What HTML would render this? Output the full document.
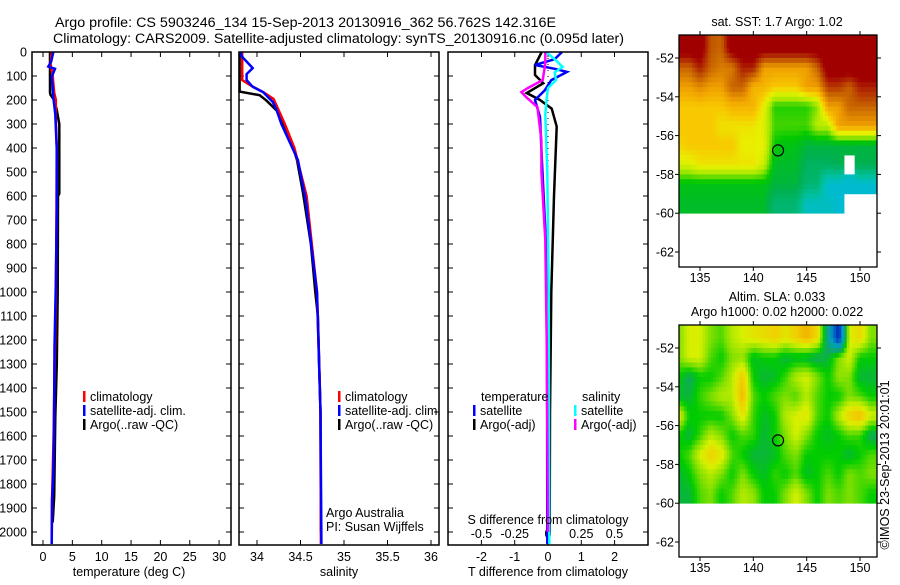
<!DOCTYPE html>
<html><head><meta charset="utf-8"><style>
html,body{margin:0;padding:0;background:#fff;}
svg text{font-family:"Liberation Sans",sans-serif;fill:#000;}
</style></head><body>
<svg id="fig" width="900" height="580" viewBox="0 0 900 580" xmlns="http://www.w3.org/2000/svg">
<rect width="900" height="580" fill="#fff"/>
<text x="55" y="27" font-size="13.5" textLength="501" lengthAdjust="spacingAndGlyphs">Argo profile: CS 5903246_134 15-Sep-2013 20130916_362 56.762S 142.316E</text>
<text x="53" y="43" font-size="13.5" textLength="571" lengthAdjust="spacingAndGlyphs">Climatology: CARS2009. Satellite-adjusted climatology: synTS_20130916.nc (0.095d later)</text>
<g id="g"></g>
</svg>
<script>
// ---------- data ----------
const depthTicks = [0,100,200,300,400,500,600,700,800,900,1000,1100,1200,1300,1400,1500,1600,1700,1800,1900,2000];
const tempTicks = [0,5,10,15,20,25,30];
const salTicks = [34,34.5,35,35.5,36];
const salTickLabels = ["34","34.5","35","35.5","36"];
const tdiffTicks = [-2,-1,0,1,2];
const sdiffTicks = [-0.5,-0.25,0,0.25,0.5];
const sdiffTickLabels = ["-0.5","-0.25","0","0.25","0.5"];

const tDepthArgo = [0,170,179,200,240,300,590,600,1000,1300,1520,1850,1960];
const tArgo = [1.19,1.19,1.3,1.9,2.33,2.78,2.78,2.55,2.5,2.35,2.1,1.9,1.65];
const tDepthClim = [0,50,100,170,200,260,400,700,1000,1300,1600,1850,2050];
const tClim = [1.48,1.3,1.65,1.9,2.2,2.15,2.35,2.3,2.2,2.0,1.8,1.55,1.48];
const tDepthSat = [0,40,61,70,103,188,260,400,660,950,1230,1560,1760,1870,2050];
const tSat = [1.76,1.4,0.9,2.04,1.5,1.75,2.1,2.33,2.33,2.2,1.96,1.87,1.76,1.53,1.48];

const sDepthArgo = [0,165,180,203,245,300,380,450,589,800,1000,1100,1500,2000];
const sArgo = [33.80,33.80,34.03,34.11,34.23,34.30,34.40,34.46,34.53,34.62,34.67,34.70,34.73,34.735];
const sDepthClim = [0,117,138,167,195,236,300,400,600,1000,1500,2050];
const sClim = [33.83,33.83,33.92,34.07,34.19,34.24,34.32,34.43,34.57,34.69,34.73,34.735];
const sDepthSat = [0,20,67,92,117,145,167,208,236,300,450,617,1000,1500,2050];
const sSat = [33.81,33.83,33.95,33.88,33.88,33.95,34.07,34.18,34.22,34.28,34.47,34.56,34.69,34.73,34.74];

const dDepthArgoT = [0,55,96,130,171,200,236,311,600,1000,1500,2000];
const dArgoT = [-0.19,-0.39,-0.39,-0.14,-0.64,-0.24,0.11,0.26,0.18,0.1,0.06,0.05];
const dDepthSatT = [0,30,54,70,83,117,160,200,270,460,800,1200,2050];
const dSatT = [0.42,0.2,-0.39,0.2,0.57,0.1,-0.1,-0.39,-0.24,-0.18,-0.06,-0.03,-0.02];
const dDepthArgoS = [0,50,117,150,167,190,229,367,500,783,1200,2000];
const dArgoS = [-0.02,-0.02,-0.04,-0.15,-0.2,-0.16,-0.08,-0.05,-0.05,-0.02,-0.01,0];
const dDepthSatS = [0,30,62,85,117,150,192,260,500,1000,2050];
const dSatS = [-0.015,0.05,0.11,0.05,0.06,0.0,-0.01,-0.02,-0.005,0.005,0.01];

const mapLons = [133,134,135,136,137,138,139,140,141,142,143,144,145,146,147,148,149,150,151];
const latTicks = [-52,-54,-56,-58,-60,-62];
const lonTicks = [135,140,145,150];
const sstGrid = [
 [4.5,4.5,4.5,3.6,3.5,4.5,4.5,4.5,4.5,4.5,4.5,4.5,4.5,4.5,4.5,4.5,4.5,4.5,4.5],
 [3.5,3.5,4.0,3.5,3.3,3.3,4.0,4.0,3.0,3.0,3.0,3.0,3.0,3.5,4.5,4.5,4.5,4.5,4.5],
 [3.0,3.0,3.2,3.0,3.0,3.5,3.5,2.8,2.8,2.6,2.6,2.6,3.0,3.0,3.8,3.8,3.5,4.0,4.0],
 [2.6,2.6,2.6,2.6,2.6,2.8,2.8,2.8,2.3,1.5,1.5,1.5,1.5,1.8,3.0,3.0,3.5,3.5,3.5],
 [2.6,2.6,2.6,2.6,2.4,2.4,2.4,2.4,2.2,1.6,1.6,1.6,1.6,2.0,2.0,3.0,3.0,3.0,3.0],
 [2.5,2.6,2.6,2.6,2.6,2.6,2.3,2.3,2.3,1.4,1.3,1.3,1.1,1.1,1.1,1.1,1.1,1.1,1.1],
 [2.2,2.2,2.4,2.4,2.4,2.4,2.4,2.4,2.1,1.2,1.2,1.2,0.9,0.9,0.9,1.0,null,1.0,1.0],
 [1.3,1.3,1.3,1.3,1.3,1.3,1.3,1.3,1.3,1.1,1.1,1.1,0.8,0.8,0.2,0.2,0.2,0.2,0.2],
 [1.2,1.2,1.2,1.2,1.2,1.2,1.2,1.2,1.2,0.8,0.8,0.8,0.3,0.3,0.3,0.2,null,null,null]
];
const slaGrid = [
 [0.5,1,1,0.5,0.3,0.8,1,1.2,1.3,1.5,1.2,1.5,1.8,1.4,-1,-3,1,1.4,0.5],
 [0.5,1,1,0.3,0,0.5,0.6,-0.2,0,0,-0.3,-0.2,-0.3,-0.5,-0.3,0.5,1,0,0],
 [0,-0.5,0,0,0.3,0.8,1.6,0,-0.3,-0.2,0.2,0.8,1,0.5,0,0.6,0.5,-0.3,-0.3],
 [-0.3,-0.3,0.2,0.5,0.8,0.8,1.8,0.3,0,0.3,0.5,0.3,0.8,0.3,0,0,0.5,0.3,0],
 [1.2,0,0,0,0,0.5,1.2,0.2,-0.2,0,0.8,1,1.2,0.3,0,0.8,1.5,1.8,1],
 [0,-0.3,0.2,0.8,0.5,0,0.3,0.2,-0.3,0,0.5,1,0.5,0,-0.2,0,0.3,0.2,-0.5],
 [0,0.3,1,1.5,1.2,0.3,0,-0.3,-0.3,-0.2,0.3,0.5,0,0,0,0,-0.3,0,0.3],
 [-0.3,0,0.5,0.8,0.5,0,0.5,0,-0.2,0.2,0,0.3,-0.2,0,0.3,0,0.5,0.3,0.5],
 [-0.3,-0.3,0.3,0.5,0,0.3,0.8,0.6,0,0,0.5,1,0.5,0,0.5,0.3,0.5,0.3,0]
];
const argoLon = 142.316, argoLat = -56.762;

// ---------- helpers ----------
const NS = "http://www.w3.org/2000/svg";
const G = document.getElementById('g');
function mk(tag, attrs, parent){ const e=document.createElementNS(NS,tag); for(const k in attrs) e.setAttribute(k,attrs[k]); (parent||G).appendChild(e); return e; }
function txt(s,x,y,size,anchor,parent){ const t=mk('text',{x:x,y:y,'font-size':size,'text-anchor':anchor||'start'},parent); t.textContent=s; return t; }

const PT=52, PB=545;
const yD = d => 52 + d*0.24;
const xT = v => 43 + v*5.87;
const xS = v => 257 + (v-34)*87;
const xTD = v => 548 + v*33.3;
const xSD = v => 548 + v*133;

function frame(x0,x1,y0,y1,name){ const r=mk('rect',{x:x0,y:y0,width:x1-x0,height:y1-y0,fill:'none',stroke:'#000','stroke-width':1.5});   }
function line(xs,ys,fx,fy,color,name,w){ const p=xs.map((v,i)=>fx(v).toFixed(1)+','+fy(ys[i]).toFixed(1)).join(' '); const e=mk('polyline',{points:p,fill:'none',stroke:color,'stroke-width':w||2.5,'stroke-linejoin':'miter'});   }
function yticks(x0,x1){ depthTicks.forEach(d=>{ mk('line',{x1:x0,y1:yD(d),x2:x0+5,y2:yD(d),stroke:'#000'}); mk('line',{x1:x1,y1:yD(d),x2:x1-5,y2:yD(d),stroke:'#000'}); }); }
function xticks(vals,f,y0,y1){ vals.forEach(v=>{ mk('line',{x1:f(v),y1:y1,x2:f(v),y2:y1-5,stroke:'#000'}); mk('line',{x1:f(v),y1:y0,x2:f(v),y2:y0+5,stroke:'#000'}); }); }
function legendBar(x,y,color,label,name){ const b=mk('rect',{x:x,y:y-10,width:2.5,height:11,fill:color});   const t=txt(label,x+7,y,12.5);   }

// ---------- temperature panel ----------
yticks(32,231); xticks(tempTicks,xT,PT,PB);
depthTicks.forEach(d=>{ const t=txt(String(d),27,yD(d)+4.5,12.5,'end');   });
tempTicks.forEach(v=>{ const t=txt(String(v),xT(v),561,12.5,'middle');   });
{const t=txt('temperature (deg C)',129,576,12.5,'middle');  }
line(tArgo,tDepthArgo,xT,yD,'#000','temp-argo-line');
line(tClim,tDepthClim,xT,yD,'#f00','temp-climatology-line');
line(tSat,tDepthSat,xT,yD,'#00f','temp-satellite-line');
legendBar(83,401,'#f00','climatology','temp-legend-climatology');
legendBar(83,415,'#00f','satellite-adj. clim.','temp-legend-satellite');
legendBar(83,429,'#000','Argo(..raw -QC)','temp-legend-argo');
frame(32,231,PT,PB,'temperature-panel-frame');

// ---------- salinity panel ----------
yticks(239,439); xticks(salTicks,xS,PT,PB);
salTicks.forEach((v,i)=>{ const t=txt(salTickLabels[i],xS(v),561,12.5,'middle');   });
{const t=txt('salinity',339,576,12.5,'middle');  }
line(sArgo,sDepthArgo,xS,yD,'#000','salinity-argo-line');
line(sClim,sDepthClim,xS,yD,'#f00','salinity-climatology-line');
line(sSat,sDepthSat,xS,yD,'#00f','salinity-satellite-line');
legendBar(338,401,'#f00','climatology','sal-legend-climatology');
legendBar(338,415,'#00f','satellite-adj. clim.','sal-legend-satellite');
legendBar(338,429,'#000','Argo(..raw -QC)','sal-legend-argo');
{const t=txt('Argo Australia',326,517,12.5);  }
{const t=txt('PI: Susan Wijffels',326,531,12.5);  }
frame(239,439,PT,PB,'salinity-panel-frame');

// ---------- difference panel ----------
depthTicks.forEach(d=>{ mk('line',{x1:448,y1:yD(d),x2:453,y2:yD(d),stroke:'#000'}); mk('line',{x1:648,y1:yD(d),x2:643,y2:yD(d),stroke:'#000'}); });
tdiffTicks.forEach(v=>{ mk('line',{x1:xTD(v),y1:PB,x2:xTD(v),y2:PB-5,stroke:'#000'}); const t=txt(String(v),xTD(v),561,12.5,'middle');   });
sdiffTicks.forEach((v,i)=>{ mk('line',{x1:xSD(v),y1:PT,x2:xSD(v),y2:PT+5,stroke:'#000'}); const t=txt(sdiffTickLabels[i],xSD(v),538,12.5,'middle');   });
{const z=mk('line',{x1:548,y1:PT,x2:548,y2:PB,stroke:'#000','stroke-dasharray':'1,5'});  }
line(dArgoT,dDepthArgoT,xTD,yD,'#000','tdiff-argo-line');
line(dSatT,dDepthSatT,xTD,yD,'#00f','tdiff-satellite-line');
line(dSatS,dDepthSatS,xSD,yD,'#0ff','sdiff-satellite-line');
line(dArgoS,dDepthArgoS,xSD,yD,'#f0f','sdiff-argo-line');
{const t=txt('temperature',481,401,12.5);  }
legendBar(473,415,'#00f','satellite','tdiff-legend-satellite');
legendBar(473,429,'#000','Argo(-adj)','tdiff-legend-argo');
{const t=txt('salinity',582,401,12.5);  }
legendBar(574,415,'#0ff','satellite','sdiff-legend-satellite');
legendBar(574,429,'#f0f','Argo(-adj)','sdiff-legend-argo');
{const t=txt('S difference from climatology',548,524,12.5,'middle');  }
{const t=txt('T difference from climatology',548,576,12.5,'middle');  }
frame(448,648,PT,PB,'difference-panel-frame');

// ---------- maps ----------
function interp(stops,v){ if(v<=stops[0][0]) return stops[0][1]; for(let i=1;i<stops.length;i++){ if(v<=stops[i][0]){ const a=stops[i-1],b=stops[i],t=(v-a[0])/(b[0]-a[0]); const ca=[1,3,5].map(k=>parseInt(a[1].substr(k,2),16)), cb=[1,3,5].map(k=>parseInt(b[1].substr(k,2),16)); return 'rgb('+ca.map((c,j)=>Math.round(c+(cb[j]-c)*t)).join(',')+')'; } } return stops[stops.length-1][1]; }
const sstStops=[[0,'#00b8f0'],[0.5,'#00c0a0'],[1.0,'#00b050'],[1.4,'#00c800'],[1.9,'#a8e800'],[2.3,'#e8f000'],[2.6,'#f8c800'],[3.0,'#f0a000'],[3.5,'#c86400'],[4.2,'#a00000']];
const slaStops=[[-3,'#0020c0'],[-1.5,'#00a0c0'],[-0.5,'#10a860'],[0,'#00cc00'],[0.5,'#80e000'],[1.0,'#d8f000'],[1.5,'#f0d000'],[2,'#f0a000']];

function sample(grid,lon,lat){
  const nr=grid.length, nc=grid[0].length;
  const fi=Math.max(0,Math.min(nr-1,-51.5-lat)), fj=Math.max(0,Math.min(nc-1,lon-133));
  if(grid[Math.round(fi)][Math.round(fj)]===null) return null;
  const i0=Math.floor(fi), j0=Math.floor(fj), i1=Math.min(i0+1,nr-1), j1=Math.min(j0+1,nc-1);
  const ti=fi-i0, tj=fj-j0; let s=0, w=0;
  [[i0,j0,(1-ti)*(1-tj)],[i0,j1,(1-ti)*tj],[i1,j0,ti*(1-tj)],[i1,j1,ti*tj]].forEach(c=>{ const v=grid[c[0]][c[1]]; if(v!==null){ s+=v*c[2]; w+=c[2]; } });
  return w>0 ? s/w : null;
}

function drawMap(grid,stops,y0,name,titles){
  const x0=679,x1=877,y1=y0+232;
  const fx = lon => 700 + (lon-135)*10.667;
  const fy = lat => (y0+23) + (-52-lat)*19.4;
  const gm = mk('g',{});  
  const cid='clip-'+name; const cp=mk('clipPath',{id:cid},gm); mk('rect',{x:x0,y:y0,width:x1-x0,height:y1-y0},cp);
  const cells=mk('g',{'clip-path':'url(#'+cid+')'},gm);
  const step=0.25;
  for(let lat=-50.5-step/2; lat>-60; lat-=step){
    for(let lon=132.75+step/2; lon<152; lon+=step){
      const v=sample(grid,lon,lat); if(v===null) continue;
      const r=mk('rect',{x:fx(lon-step/2).toFixed(2),y:fy(lat+step/2).toFixed(2),width:(step*10.667+0.4).toFixed(2),height:(step*19.4+0.4).toFixed(2),fill:interp(stops,v)},cells);
      
      
    }
  }
  const c=mk('circle',{cx:fx(argoLon),cy:fy(argoLat),r:5.5,fill:'none',stroke:'#000','stroke-width':1.2},gm);
   
  mk('rect',{x:x0,y:y0,width:x1-x0,height:y1-y0,fill:'none',stroke:'#000','stroke-width':1.3},gm);
  latTicks.forEach(l=>{ mk('line',{x1:x0,y1:fy(l),x2:x0-4,y2:fy(l),stroke:'#000'},gm); mk('line',{x1:x1,y1:fy(l),x2:x1+4,y2:fy(l),stroke:'#000'},gm);
    const t=txt(String(l),x0-5,fy(l)+4.5,12.5,'end',gm);   });
  lonTicks.forEach(l=>{ mk('line',{x1:fx(l),y1:y1,x2:fx(l),y2:y1+4,stroke:'#000'},gm); mk('line',{x1:fx(l),y1:y0,x2:fx(l),y2:y0-4,stroke:'#000'},gm);
    const t=txt(String(l),fx(l),y1+15,12.5,'middle',gm);   });
  titles.forEach((s,k)=>{ const t=txt(s[0],s[1],s[2],12.5,'middle',gm);   });
}
drawMap(sstGrid,sstStops,35,'sst-map',[['sat. SST: 1.7 Argo: 1.02',777,26]]);
drawMap(slaGrid,slaStops,325,'sla-map',[['Altim. SLA: 0.033',777,301],['Argo h1000: 0.02 h2000: 0.022',777,316]]);
{const t=txt('\u00A9IMOS 23-Sep-2013 20:01:01',0,0,12.5,'middle'); t.setAttribute('transform','translate(889,465) rotate(-90)');
 }
</script>
</body></html>
